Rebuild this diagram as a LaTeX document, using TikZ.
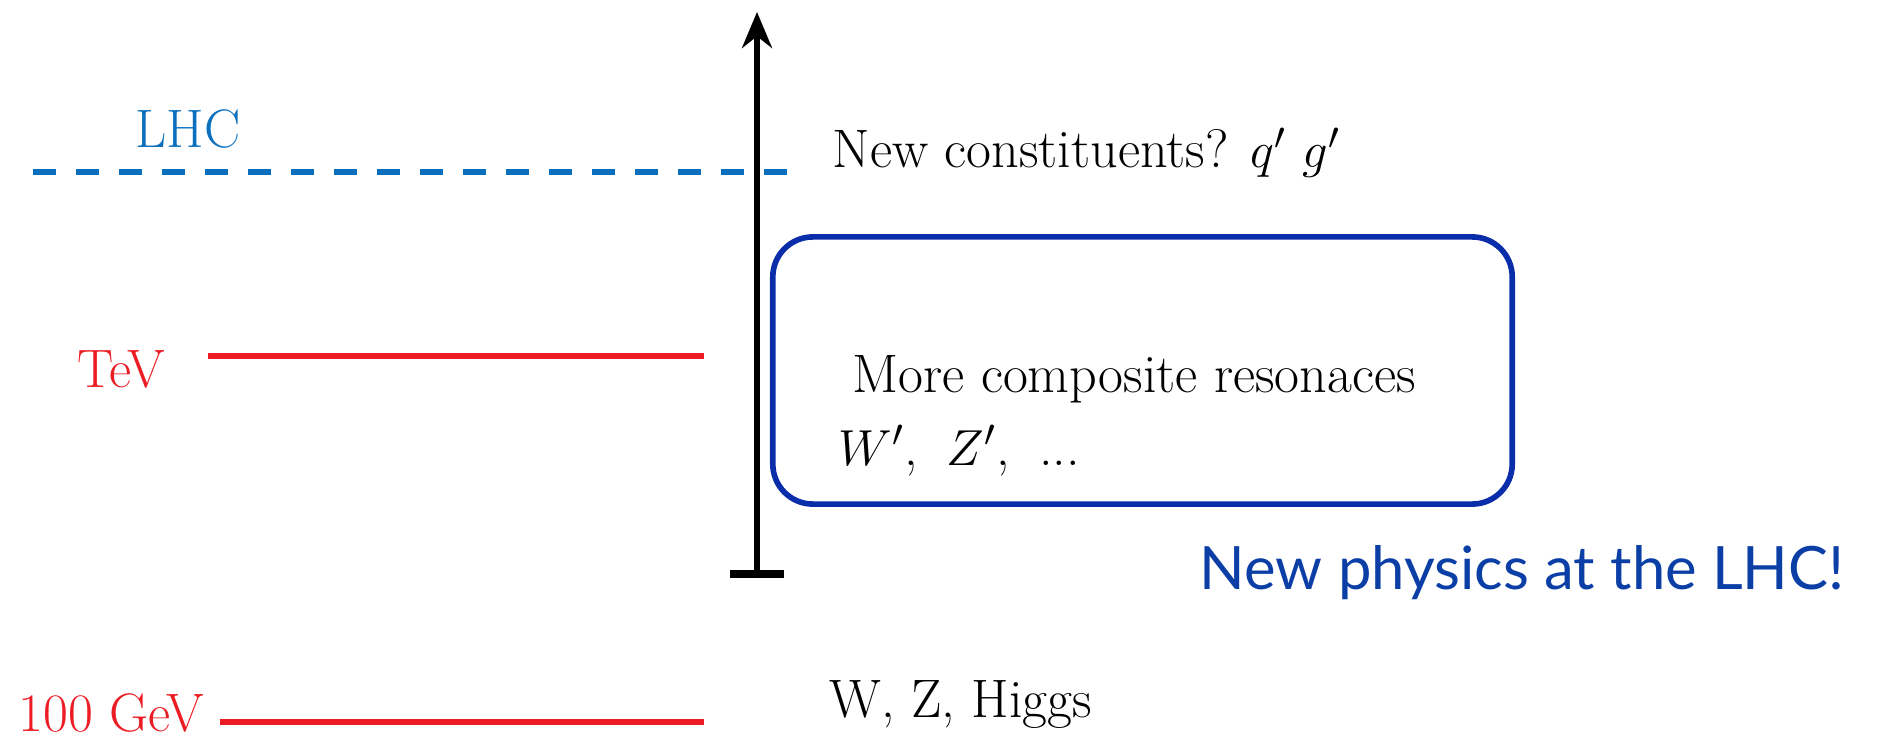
\documentclass[tikz,border=0pt]{standalone}
\usepackage{fontspec}
\usepackage{tikz}
\usetikzlibrary{arrows.meta,positioning,calc}
\newfontfamily\gillfont{Lato}
\definecolor{LHCBlue}{HTML}{0A70BE}
\definecolor{LevelRed}{HTML}{EC1C24}
\definecolor{BoxBlue}{HTML}{0A2DAA}
\definecolor{NPBlue}{HTML}{0B3FA6}

\begin{document}
\begin{tikzpicture}[x=0.01cm,y=-0.01cm,
  every node/.style={inner sep=0pt,font=\fontsize{15.4}{18}\selectfont},
  level/.style={line width=1.7pt,LevelRed},
  lbl/.style={anchor=base west}]
\useasboundingbox (0,0) rectangle (1877,737);
% energy levels
\draw[line width=1.85pt,LHCBlue,dash pattern=on 0.23cm off 0.2cm] (33,172)--(794,172);
\draw[level] (208,356)--(704,356);
\draw[level] (220,722)--(704,722);
\node[lbl,text=LHCBlue] (lhc) at (135,148) {LHC};
\node[lbl,text=LevelRed] (tev) at (77,387) {TeV};
\node[lbl,text=LevelRed] (gev) at (18,731) {100 GeV};
% energy axis
\coordinate (base) at (757,578);
\coordinate (top) at (757,12);
\draw[line width=1.6pt,{Bar[width=0.54cm,line width=2.2pt]}-{Stealth[length=0.36cm,width=0.3cm]}] (base)--(top);
% states
\node[lbl] (newc) at (832,168) {New constituents? $q'$ $g'$};
\node[draw=BoxBlue,line width=1.6pt,rounded corners=0.4cm,
  minimum width=7.39cm,minimum height=2.67cm] (box) at (1142.5,370.5) {};
\node[lbl] (comp) at (852,393) {More composite resonaces};
\node[lbl] (wz) at (838,465) {$W'$,\hspace{3.5pt} $Z'$,\hspace{3.5pt} ...};
\node[lbl] (wzh) at (829,717) {W, Z, Higgs};
\node[lbl,text=NPBlue,font=\gillfont\fontsize{17}{20}\selectfont] (np) at (1199,589) {New physics at the LHC!};
\end{tikzpicture}
\end{document}
